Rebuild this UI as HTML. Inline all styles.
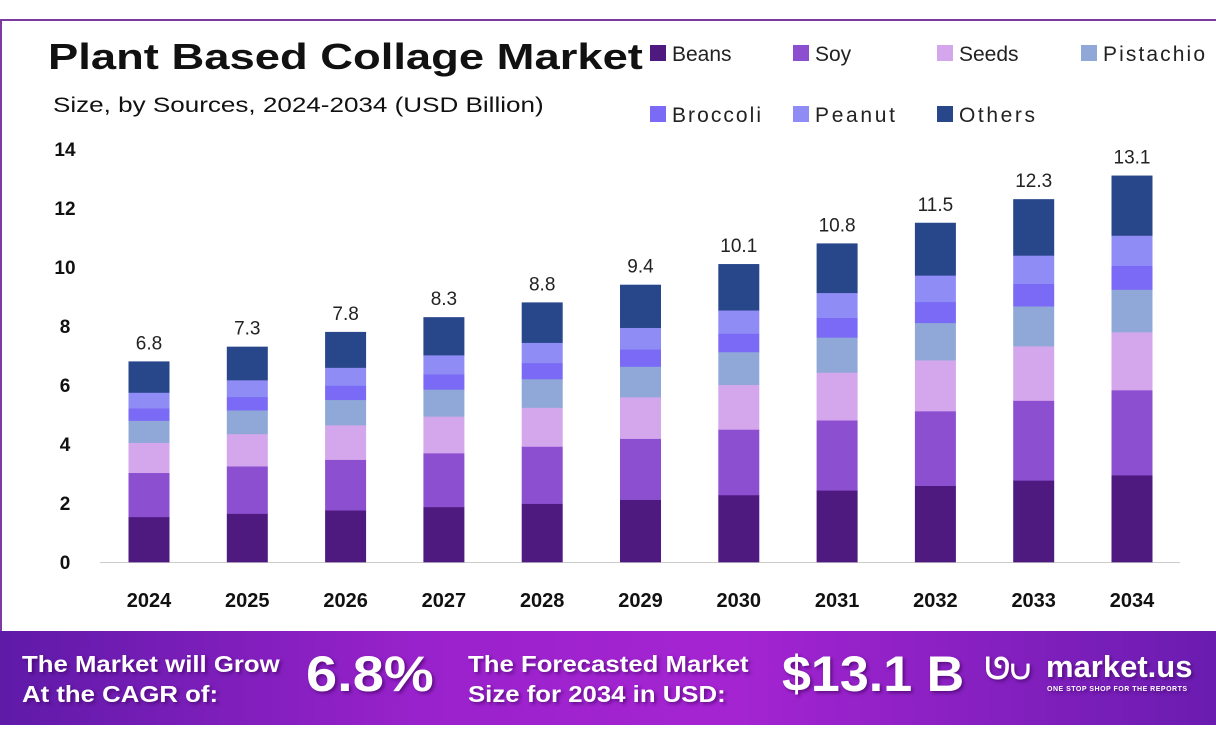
<!DOCTYPE html>
<html><head><meta charset="utf-8"><style>
body{margin:0;width:1216px;height:744px;background:#fff;overflow:hidden;font-family:"Liberation Sans",sans-serif;position:relative}
.frame{position:absolute;left:0;top:19px;width:1214px;height:620px;border-left:2px solid #7a3aa0;border-top:2px solid #7a3aa0}
.t{position:absolute;white-space:nowrap;transform-origin:0 0}
.banner{position:absolute;left:0;top:631px;width:1216px;height:94px;background:linear-gradient(90deg,#5f1aa8 0%,#9a22cc 35%,#a524d2 60%,#6a1cb0 100%)}
.bt{color:#fff;font-weight:bold;position:absolute;white-space:nowrap;text-shadow:2px 2px 3px rgba(60,0,90,.6);transform-origin:0 0}
</style></head><body>
<div class="frame"></div>
<div class="t" style="left:48px;top:36px;font-size:36px;font-weight:bold;color:#111;transform:scaleX(1.26)">Plant Based Collage Market</div>
<div class="t" style="left:53px;top:94px;font-size:21px;color:#111;transform:scaleX(1.24)">Size, by Sources, 2024-2034 (USD Billion)</div>
<svg width="1216" height="744" style="position:absolute;left:0;top:0" font-family="Liberation Sans, sans-serif">
<g font-size="21" fill="#222">
<rect x="650" y="45" width="16" height="16" fill="#4e1a80"/><text x="672" y="61">Beans</text>
<rect x="793" y="45" width="16" height="16" fill="#8c4fd0"/><text x="815" y="61">Soy</text>
<rect x="937" y="45" width="16" height="16" fill="#d4a6ec"/><text x="959" y="61">Seeds</text>
<rect x="1081" y="45" width="16" height="16" fill="#8fa8d8"/><text x="1103" y="61" textLength="102">Pistachio</text>
<rect x="650" y="106" width="16" height="16" fill="#7a6af5"/><text x="672" y="122" textLength="89">Broccoli</text>
<rect x="793" y="106" width="16" height="16" fill="#8f8cf5"/><text x="815" y="122" textLength="80">Peanut</text>
<rect x="937" y="106" width="16" height="16" fill="#28468a"/><text x="959" y="122" textLength="76">Others</text>
</g>
<g font-size="19" font-weight="bold" fill="#111" text-anchor="middle">
<text x="65" y="569">0</text><text x="65" y="510">2</text><text x="65" y="451">4</text><text x="65" y="392">6</text><text x="65" y="333">8</text><text x="65" y="274">10</text><text x="65" y="215">12</text><text x="65" y="156">14</text>
</g>
<line x1="100" y1="562.5" x2="1180" y2="562.5" stroke="#ccc" stroke-width="1"/>
<g id="bars"></g>
</svg>
<div class="banner">
<div class="bt" style="left:22px;top:18px;font-size:23px;line-height:30px;transform:scaleX(1.12)">The Market will Grow<br>At the CAGR of:</div>
<div class="bt" style="left:306px;top:14px;font-size:50px;transform:scaleX(1.12)">6.8%</div>
<div class="bt" style="left:468px;top:18px;font-size:23px;line-height:30px;transform:scaleX(1.12)">The Forecasted Market<br>Size for 2034 in USD:</div>
<div class="bt" style="left:782px;top:14px;font-size:50px;transform:scaleX(1.04)">$13.1 B</div>
<div class="bt" style="left:985px;top:22px;font-size:30px">ᘎ∪</div>
<div class="bt" style="left:1046px;top:18px;font-size:31px">market.us</div>
<div class="bt" style="left:1047px;top:55px;font-size:7px;letter-spacing:.5px">ONE STOP SHOP FOR THE REPORTS</div>
</div>
<script>
var vals=[6.8,7.3,7.8,8.3,8.8,9.4,10.1,10.8,11.5,12.3,13.1];
var fr=[.225,.22,.15,.11,.062,.078,.155];
var col=["#4e1a80","#8c4fd0","#d4a6ec","#8fa8d8","#7a6af5","#8f8cf5","#28468a"];
var g=document.getElementById('bars'),s='';
for(var i=0;i<11;i++){var cx=149+i*98.3,y=562,x=cx-20.5;
for(var k=0;k<7;k++){var h=vals[i]*fr[k]*29.5;y-=h;s+='<rect x="'+x+'" y="'+y+'" width="41" height="'+(h+0.3)+'" fill="'+col[k]+'"/>';}
s+='<text x="'+cx+'" y="'+(y-12)+'" text-anchor="middle" font-size="19" fill="#222">'+vals[i]+'</text>';
s+='<text x="'+cx+'" y="607" text-anchor="middle" font-size="20" font-weight="bold" fill="#111">'+(2024+i)+'</text>';}
g.innerHTML=s;
</script>
</body></html>
